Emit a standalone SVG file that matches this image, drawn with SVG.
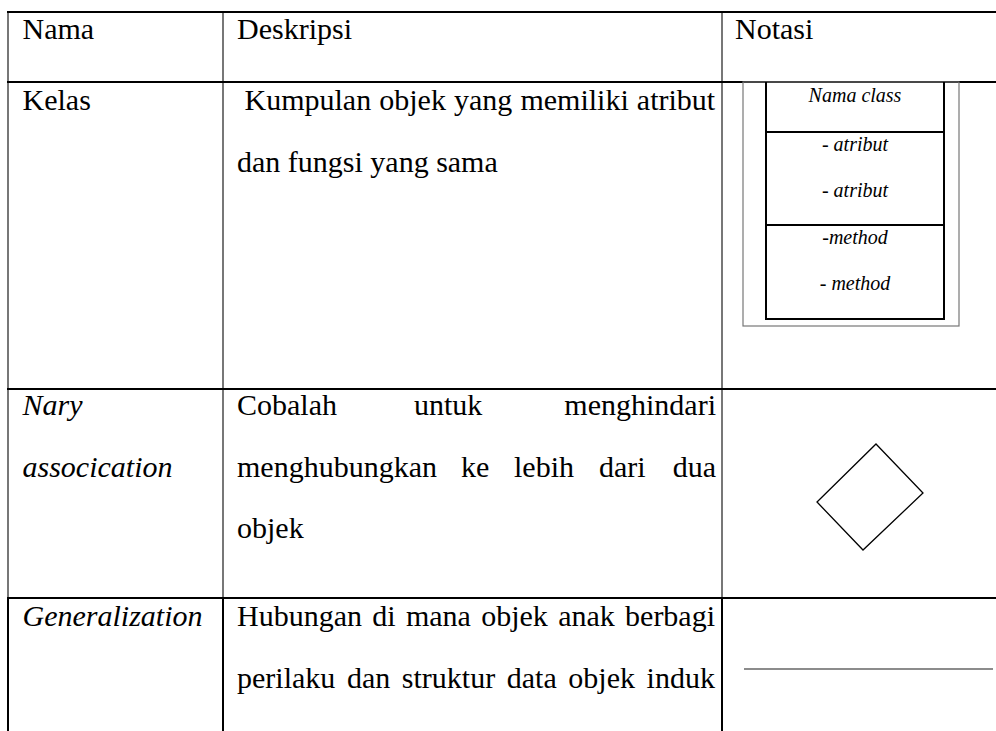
<svg xmlns="http://www.w3.org/2000/svg" width="996" height="731" viewBox="0 0 996 731">
  <style>
    text { font-family: 'Liberation Serif', Tinos, 'Times New Roman', Times, serif; fill: #000; }
    .t { font-size: 30px; }
    .i { font-style: italic; }
    .s { font-size: 20px; font-style: italic; text-anchor: middle; }
    .hl { stroke: #000; stroke-width: 2; fill: none; }
    .vl { stroke: #555; stroke-width: 1.6; fill: none; }
    .vb { stroke: #000; stroke-width: 2; fill: none; }
    .cls { stroke: #000; stroke-width: 2; fill: none; }
  </style>
  <rect width="996" height="731" fill="#fff"/>
  <g id="grid">
    <line class="vl" x1="8" y1="12" x2="8" y2="598"/>
    <line class="vl" x1="223" y1="12" x2="223" y2="598"/>
    <line class="vl" x1="722" y1="12" x2="722" y2="598"/>
    <line class="vb" x1="8" y1="598" x2="8" y2="731"/>
    <line class="vb" x1="223" y1="598" x2="223" y2="731"/>
    <line class="vb" x1="722" y1="598" x2="722" y2="731"/>
    <line class="hl" x1="7" y1="12" x2="996" y2="12"/>
    <line class="hl" x1="7" y1="82" x2="996" y2="82"/>
    <line class="hl" x1="7" y1="389" x2="996" y2="389"/>
    <line class="hl" x1="7" y1="598" x2="996" y2="598"/>
  </g>
  <g id="header">
    <text class="t" x="22.5" y="39">Nama</text>
    <text class="t" x="237" y="39">Deskripsi</text>
    <text class="t" x="735" y="39">Notasi</text>
  </g>
  <g id="row-kelas">
    <text class="t" x="244.5" y="110" word-spacing="0.6">Kumpulan objek yang memiliki atribut</text>
    <text class="t" x="22.5" y="110">Kelas</text>
    <text class="t" x="237" y="171.5">dan fungsi yang sama</text>
    <g id="class-notation">
      <rect x="743" y="82" width="216" height="244" fill="none" stroke="#777" stroke-width="1.2"/>
      <path class="cls" d="M766 82 V319 H944 V82 M766 132 H944 M766 225 H944"/>
      <text class="s" x="855" y="102">Nama class</text>
      <text class="s" x="855" y="151">- atribut</text>
      <text class="s" x="855" y="197">- atribut</text>
      <text class="s" x="855" y="244">-method</text>
      <text class="s" x="855" y="290">- method</text>
    </g>
  </g>
  <g id="row-nary">
    <text class="t i" x="22.5" y="415">Nary</text>
    <text class="t i" x="22.5" y="476.5">assocication</text>
    <text class="t" x="237" y="415">Cobalah</text>
    <text class="t" x="414" y="415">untuk</text>
    <text class="t" x="716" y="415" text-anchor="end">menghindari</text>
    <text class="t" x="237" y="476.5">menghubungkan</text>
    <text class="t" x="461" y="476.5">ke</text>
    <text class="t" x="514" y="476.5">lebih</text>
    <text class="t" x="599" y="476.5">dari</text>
    <text class="t" x="716" y="476.5" text-anchor="end">dua</text>
    <text class="t" x="237" y="538">objek</text>
    <polygon id="nary-diamond" points="876,444 923,493 863,550 817,502" fill="none" stroke="#000" stroke-width="1.3"/>
  </g>
  <g id="row-generalization">
    <text class="t i" x="22.5" y="626">Generalization</text>
    <text class="t" x="237" y="626" word-spacing="2.8">Hubungan di mana objek anak berbagi</text>
    <text class="t" x="237" y="687.5" word-spacing="4.1">perilaku dan struktur data objek induk</text>
    <line id="generalization-line" x1="744" y1="669" x2="993" y2="669" stroke="#666" stroke-width="1.6"/>
  </g>
</svg>
